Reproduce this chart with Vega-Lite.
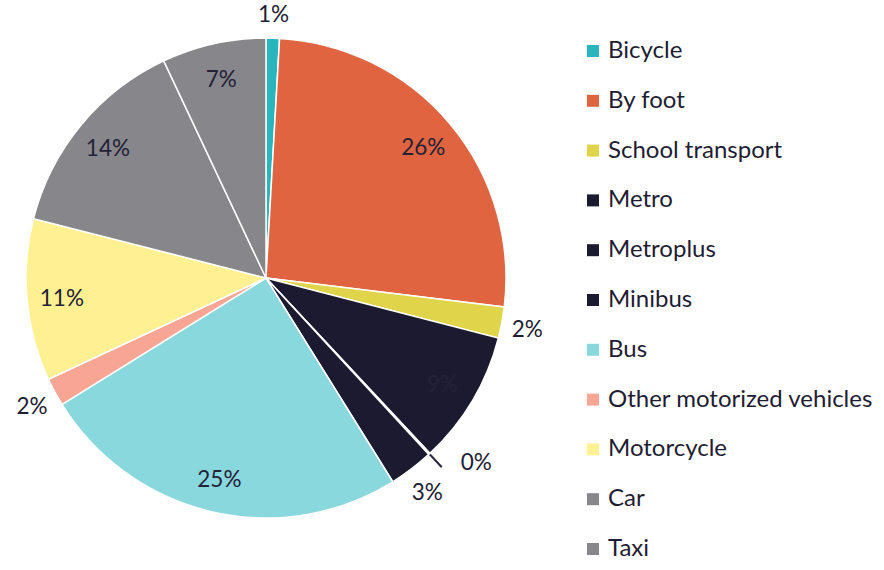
{
  "$schema": "https://vega.github.io/schema/vega-lite/v6.json",
  "width": 532,
  "height": 556,
  "autosize": {"type": "none"},
  "padding": {"left": 0, "top": 0, "right": 352, "bottom": 14},
  "background": "white",
  "config": {"view": {"stroke": null}, "font": "Lato"},
  "data": {
    "values": [
      {"mode": "Bicycle", "value": 0.009, "order": 1},
      {"mode": "By foot", "value": 0.26, "order": 2},
      {"mode": "School transport", "value": 0.021, "order": 3},
      {"mode": "Metro", "value": 0.09, "order": 4},
      {"mode": "Metroplus", "value": 0.001, "order": 5},
      {"mode": "Minibus", "value": 0.03, "order": 6},
      {"mode": "Bus", "value": 0.25, "order": 7},
      {"mode": "Other motorized vehicles", "value": 0.019, "order": 8},
      {"mode": "Motorcycle", "value": 0.109, "order": 9},
      {"mode": "Car", "value": 0.14, "order": 10},
      {"mode": "Taxi", "value": 0.07, "order": 11}
    ]
  },
  "encoding": {
    "theta": {"field": "value", "type": "quantitative", "stack": true},
    "order": {"field": "order", "type": "quantitative"}
  },
  "layer": [
    {
      "mark": {"type": "arc", "radius": 240, "stroke": "white", "strokeWidth": 1.5},
      "encoding": {
        "color": {
          "field": "mode",
          "type": "nominal",
          "scale": {
            "domain": ["Bicycle", "By foot", "School transport", "Metro", "Metroplus", "Minibus", "Bus", "Other motorized vehicles", "Motorcycle", "Car", "Taxi"],
            "range": ["#29b5bd", "#df643f", "#e0d44b", "#1c1a30", "#1c1a30", "#1c1a30", "#89d8dd", "#f8a593", "#fff092", "#87868b", "#87868b"]
          },
          "legend": {
            "title": null,
            "orient": "none",
            "legendX": 581,
            "legendY": 39,
            "symbolType": "square",
            "symbolSize": 144,
            "symbolStrokeWidth": 0,
            "labelFont": "Lato",
            "labelFontSize": 24,
            "labelColor": "#1f1d33",
            "labelOffset": 3,
            "rowPadding": 25.8,
            "labelLimit": 400
          }
        }
      }
    },
    {
      "mark": {"type": "arc", "radius": 258, "radius2": 241, "fill": "#1f1d33", "stroke": "#1f1d33", "strokeWidth": 0.6},
      "encoding": {
        "opacity": {"condition": {"test": "datum.value < 0.005", "value": 1}, "value": 0}
      }
    },
    {
      "mark": {"type": "text", "radius": 205, "dy": 2, "font": "Lato", "fontSize": 22.5, "fill": "#242238"},
      "encoding": {
        "text": {"condition": {"test": "datum.value >= 0.05", "field": "value", "format": ".0%"}, "value": ""}
      }
    },
    {
      "mark": {"type": "text", "radius": 266, "dy": 3, "font": "Lato", "fontSize": 22.5, "fill": "#1f1d33"},
      "encoding": {
        "text": {"condition": {"test": "datum.value >= 0.005 && datum.value < 0.05", "field": "value", "format": ".0%"}, "value": ""}
      }
    },
    {
      "mark": {"type": "text", "radius": 265, "font": "Lato", "fontSize": 22.5, "fill": "#1f1d33", "dx": 30, "dy": -9},
      "encoding": {
        "text": {"condition": {"test": "datum.value < 0.005", "field": "value", "format": ".0%"}, "value": ""}
      }
    }
  ]
}
